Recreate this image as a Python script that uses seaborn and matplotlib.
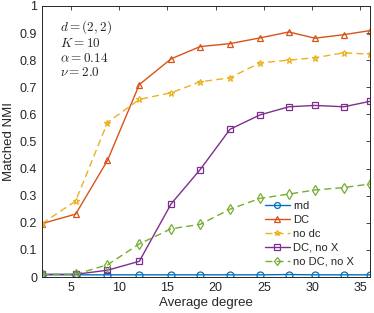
import matplotlib
matplotlib.use("Agg")
import matplotlib.pyplot as plt
import pandas as pd
import seaborn as sns

grau = [2, 5.5, 8.8, 12.1, 15.4, 18.4, 21.5, 24.6, 27.6, 30.3, 33.3, 36]

rnd = [0.008, 0.008, 0.008, 0.008, 0.008, 0.008, 0.008, 0.008, 0.009, 0.008, 0.008, 0.008]
dc = [0.197, 0.232, 0.43, 0.71, 0.805, 0.85, 0.861, 0.882, 0.904, 0.881, 0.894, 0.909]
no_dc = [0.197, 0.28, 0.57, 0.655, 0.68, 0.72, 0.735, 0.79, 0.80, 0.809, 0.827, 0.822]
dc_no_x = [0.01, 0.01, 0.025, 0.058, 0.27, 0.396, 0.545, 0.598, 0.628, 0.633, 0.628, 0.648]
no_dc_no_x = [0.01, 0.01, 0.045, 0.122, 0.178, 0.194, 0.25, 0.29, 0.306, 0.321, 0.33, 0.343]

nomes = ["rnd", "DC", "no dc", "DC, no X", "no DC, no X"]
series = [rnd, dc, no_dc, dc_no_x, no_dc_no_x]
cores = ["#0072BD", "#D95319", "#EDB120", "#7E2F8E", "#77AC30"]
marcadores = ["o", "^", "*", "s", "d"]
estilos = ["-", "-", (0, (5, 3)), "-", (0, (5, 3))]

sns.set_style("white")
plt.rcParams['font.family'] = ['Liberation Sans', 'DejaVu Sans']
plt.rcParams['mathtext.fontset'] = 'cm'

fig = plt.figure(figsize=(3.74, 3.13), dpi=100)
ax = fig.add_axes([0.112, 0.115, 0.877, 0.866])

for nome, valores, cor, m, ls in zip(nomes, series, cores, marcadores, estilos):
    df = pd.DataFrame({"grau": grau, "nmi": valores})
    sns.lineplot(data=df, x="grau", y="nmi", ax=ax, color=cor, linestyle=ls,
                 marker=m, markersize=5, markerfacecolor="none", markeredgecolor=cor,
                 markeredgewidth=0.9, linewidth=1.0, label=nome)

ax.set_xlim(2, 36)
ax.set_ylim(0, 1)
ax.set_xticks([5, 10, 15, 20, 25, 30, 35])
ax.set_yticks([0, 0.1, 0.2, 0.3, 0.4, 0.5, 0.6, 0.7, 0.8, 0.9, 1])
ax.set_yticklabels(["0", "0.1", "0.2", "0.3", "0.4", "0.5", "0.6", "0.7", "0.8", "0.9", "1"])
ax.tick_params(direction="in", length=3, width=0.6, top=True, right=True,
               labelsize=9, colors="#262626")
for s in ax.spines.values():
    s.set_color("#262626")
    s.set_linewidth(0.7)
ax.set_xlabel("Average degree", fontsize=9.5, color="#262626", labelpad=2)
ax.set_ylabel("Matched NMI", fontsize=9.5, color="#262626", labelpad=3)

ax.text(3.9, 0.955, "$d=(2,2)$\n$K=10$\n$\\alpha=0.14$\n$\\nu=2.0$",
        fontsize=9.5, va="top", ha="left", color="#262626", linespacing=1.15)

leg = ax.legend(loc="lower right", frameon=False, fontsize=8, handlelength=2.25,
                handletextpad=0.27, labelspacing=0.36, borderaxespad=0, borderpad=0,
                markerscale=0.85, bbox_to_anchor=(0.951, 0.037))

fig.savefig("out.png", dpi=100)
